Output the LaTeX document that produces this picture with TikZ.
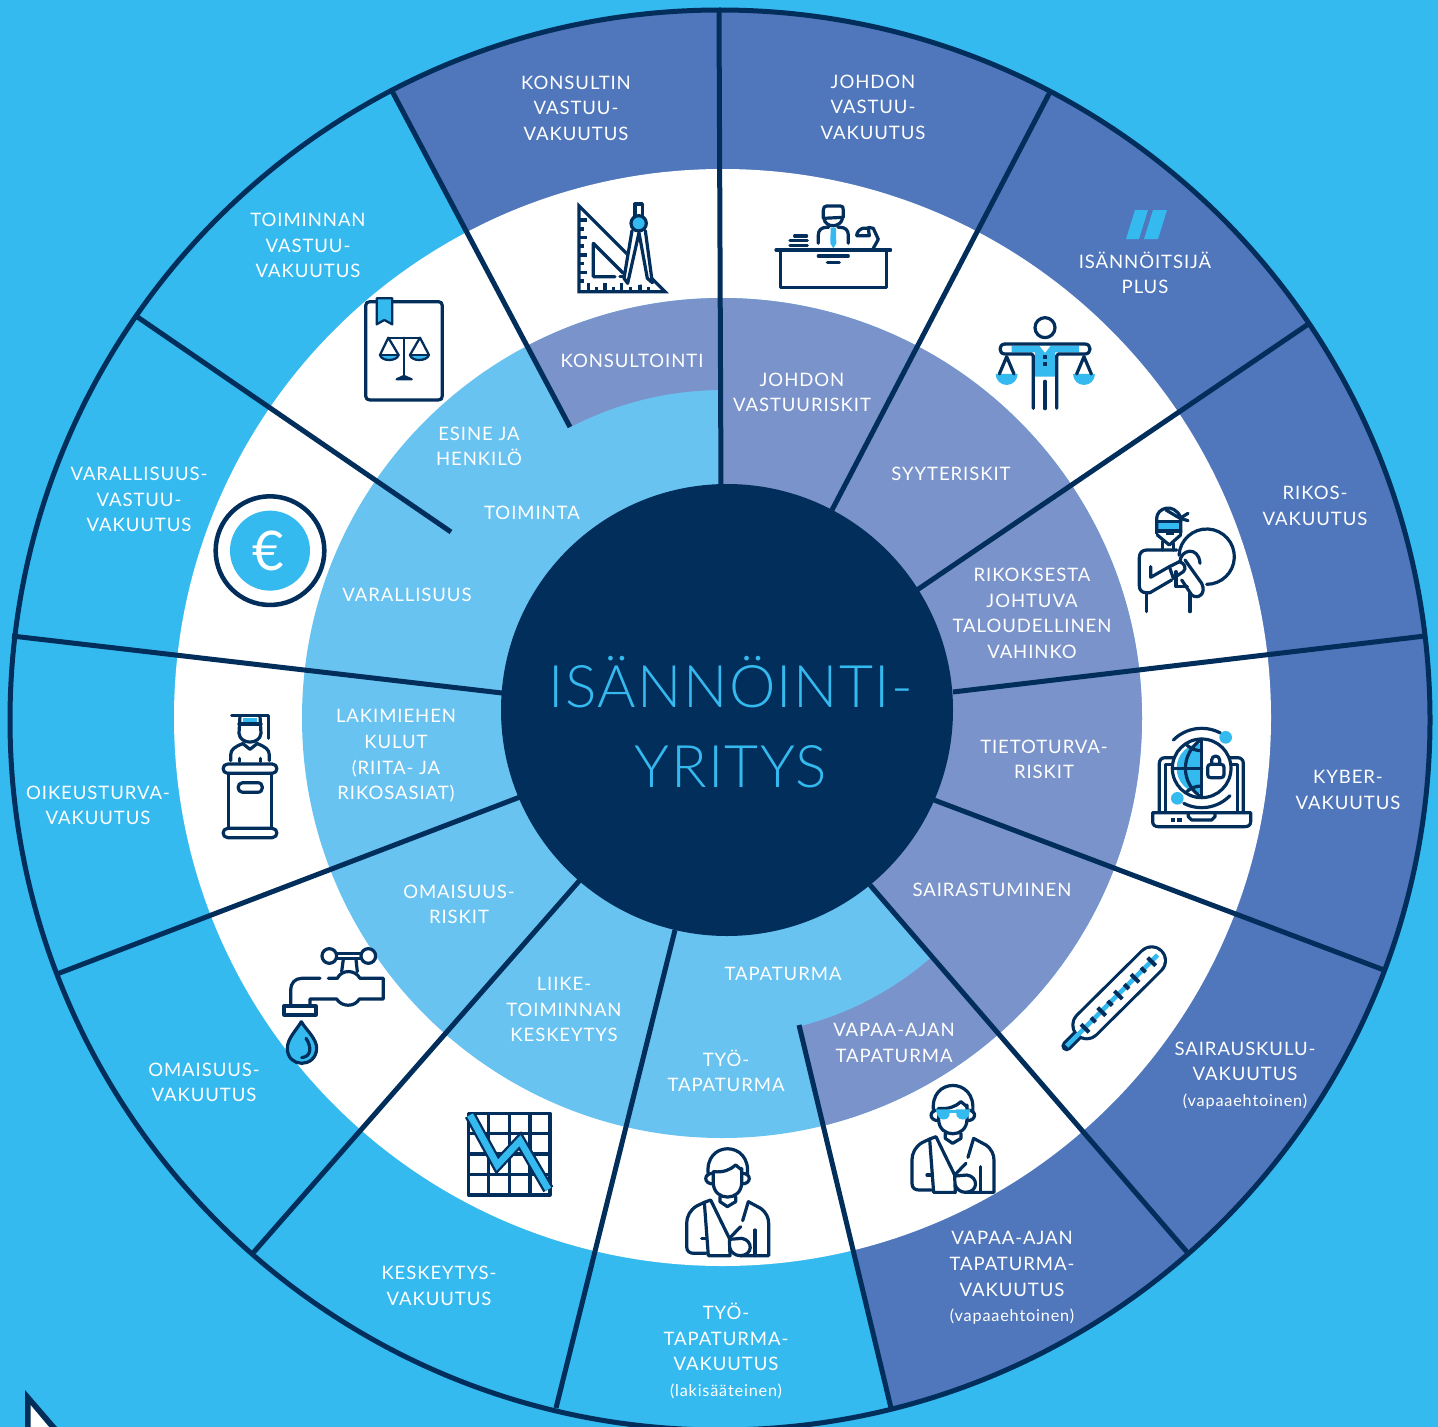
\documentclass[tikz,border=0pt]{standalone}
\usepackage{fontspec}
\setmainfont{Lato}[LetterSpace=5]
\newfontfamily\titlefont{Lato Light}[LetterSpace=2.4]
\usepackage{tikz}
\definecolor{skybg}{HTML}{35BAF0}
\definecolor{darkseg}{HTML}{5076BB}
\definecolor{periseg}{HTML}{7A93CB}
\definecolor{lightseg}{HTML}{69C3F1}
\definecolor{navy}{HTML}{022E5B}
\newcommand{\smalltxt}[1]{{\fontsize{12.2}{19.2}\selectfont #1}}
\newcommand{\slingman}{
    \draw[icon] (115,285) .. controls (100,180) and (245,180) .. (232,285);
    \draw[icon] (130,275) -- (130,310) .. controls (132,365) and (213,365) .. (215,310) -- (215,265);
    \draw[icon] (130,275) .. controls (160,278) and (180,270) .. (197,255) -- (215,270);
    \draw[icon] (128,280) .. controls (100,280) and (100,312) .. (130,312);
    \draw[icon] (217,280) .. controls (245,280) and (245,312) .. (215,312);
    \draw[icon] (150,350) -- (150,365) -- (172,380) -- (197,365) -- (197,350);
    \draw[icon] (103,367) -- (80,378) .. controls (60,390) and (50,410) .. (50,430) -- (50,500) .. controls (50,515) and (60,520) .. (72,520) -- (108,520);
    \draw[icon] (95,475) -- (110,475);
    \draw[icon] (103,367) -- (122,360) -- (178,475) -- (180,527) -- (115,527) -- cycle;
    \draw[icon] (235,365) -- (218,422);
    \draw[icon] (212,440) -- (178,475);
    \draw[icon] (235,365) -- (272,385) .. controls (290,398) and (296,415) .. (296,430) -- (296,527) -- (210,527);
    \draw[icon] (255,450) -- (255,527);
    \draw[icon] (180,478) -- (215,475) .. controls (250,480) and (250,527) .. (210,527) .. controls (195,527) and (182,515) .. (180,505);
}
\tikzset{
  seglabel/.style={align=center,text=white,inner sep=0pt,font=\fontsize{13.9}{19.2}\selectfont},
  spoke/.style={draw=navy,line width=3.75pt},
  icon/.style={draw=navy,line width=2.4pt,line cap=round,line join=round},
  thinicon/.style={draw=navy,line width=1.7pt,line cap=round,line join=round}
}

\begin{document}
\begin{tikzpicture}[x=0.75pt,y=0.75pt,yscale=-1]
\useasboundingbox (0,0) rectangle (1438,1427);

%Background
\fill[skybg] (0,0) rectangle (1438,1427);
%Outer ring, dark segments
\begin{scope}
\clip (720,720) circle [radius=710];
\fill[darkseg] (570,427) -- (317,-50) -- (1500,-50) -- (1500,1500) -- (913,1500) -- (798,1025) -- cycle;
\end{scope}
%White ring and inner ring
\fill[white] (722.5,717.5) circle [radius=548.5];
\fill[lightseg] (722,718) circle [radius=420];
%Inner ring, darker segments
\begin{scope}
\clip (722,718) circle [radius=420];
\fill[periseg] (727,710) -- (721,484) -- (719,-50) -- (1500,-50) -- (1500,1500) -- (1401,1500) -- (870,885) -- cycle;
\fill[periseg] (722,718) ++(-117.6:328) arc [start angle=-117.6,end angle=-90.35,radius=328] -- (720,200) -- (392,91) -- cycle;
\fill[periseg] (722,718) ++(76.1:318) arc [start angle=76.1,end angle=48.5,radius=318] -- (1187,1252) -- (891,1408) -- cycle;
\end{scope}
%Outer circle
\draw[spoke] (720,720) circle [radius=710];
%Straight Lines
\draw[spoke] (719,10) -- (721,490);
\draw[spoke] (1050,92) -- (832,510);
\draw[spoke] (1307,325) -- (917,590);
\draw[spoke] (1425,636) -- (953,692);
\draw[spoke] (1384,970) -- (934,800);
\draw[spoke] (1187,1252) -- (870,885);
\draw[spoke] (891,1408) -- (799,1025);
\draw[spoke] (556,1408) -- (675,930);
\draw[spoke] (253,1253) -- (580,880);
\draw[spoke] (57,974) -- (520,797);
\draw[spoke] (12,636) -- (502,693);
\draw[spoke] (136,316) -- (451,532);
\draw[spoke] (392,91) -- (570,427);
%Centre
\fill[navy] (727,710) circle [radius=226];
\node[text=skybg,align=center,inner sep=0pt,font=\titlefont\fontsize{44}{60}\selectfont] (title) at (731,722) {ISÄNNÖINTI-\\YRITYS};

%Corner mark
\fill[navy] (25,1390) -- (25,1427) -- (57,1427) -- cycle;
\fill[white] (30.5,1405) -- (30.5,1427) -- (49,1427) -- cycle;

%Slash mark
\fill[skybg] (1135,210) -- (1148,210) -- (1139,239) -- (1126,239) -- cycle;
\fill[skybg] (1153,210) -- (1167,210) -- (1158,239) -- (1144,239) -- cycle;

%Icon: set square and compass
\begin{scope}[shift={(540,180)},scale=0.3333]
\draw[icon,line cap=butt,miter limit=10,line join=miter] (117,78) -- (117,335) -- (375,335) -- cycle;
\draw[icon] (225,290) -- (160,290) -- (160,190) -- (250,280);
\draw[icon] (240,290) -- (250,290);
\foreach \ty/\tl in {120/25,147/15,172/25,198/15,225/25,250/15,277/25,303/15}
  \draw[icon,line cap=butt] (117,\ty) -- ++(\tl,0);
\foreach \tx/\tl in {145/25,170/15,195/25,220/15,245/25,272/15,300/25,325/15}
  \draw[icon,line cap=butt] (\tx,335) -- ++(0,-\tl);
\fill[white] (270,150) -- (250,300) -- (262,318) -- (340,310) -- (320,150) -- cycle;
\draw[icon] (285,110) -- (285,72) -- (307,72) -- (307,110);
\draw[icon] (276,152) -- (252,295) -- (263,310) -- (297,158) -- (322,295) -- (337,308) -- (316,152);
\draw[icon,fill=skybg] (296,130) circle [radius=23];
\end{scope}

%Icon: manager at desk
\begin{scope}[shift={(540,180)},scale=0.3333]
\draw[icon] (708,210) -- (1052,210);
\draw[icon] (722,210) -- (722,322) -- (1040,322) -- (1040,210);
\draw[icon] (835,228) -- (925,228);
\draw[icon] (862,248) -- (898,248);
\draw[icon] (850,115) -- (850,90) .. controls (850,82) and (854,78) .. (860,78) -- (902,78) .. controls (908,78) and (910,82) .. (910,90) -- (910,112) -- (850,115);
\draw[icon] (852,115) .. controls (855,145) and (905,145) .. (908,112);
\draw[icon] (835,190) -- (835,165) .. controls (835,150) and (845,142) .. (860,142) -- (866,142);
\draw[icon] (925,190) -- (925,165) .. controls (925,150) and (915,142) .. (900,142) -- (894,142);
\fill[skybg] (872,143) -- (888,143) -- (889,190) -- (880,205) -- (871,190) -- cycle;
\draw[icon] (764,168) -- (800,168);
\draw[icon] (750,182) -- (802,182);
\draw[icon] (750,196) -- (802,196);
\draw[icon] (950,167) -- (988,167) -- (985,145) -- (968,145) .. controls (958,148) and (950,158) .. (950,167);
\draw[icon] (985,142) -- (1000,145) -- (1015,178) -- (1000,205);
\end{scope}

%Icon: balance figure
\begin{scope}[shift={(980,200)},scale=0.3333]
\fill[skybg] (95,437) -- (297,437) -- (297,457) -- (225,457) -- (225,530) -- (165,530) -- (165,457) -- (95,457) -- cycle;
\fill[white] (178,437) -- (212,437) -- (195,458) -- cycle;
\draw[icon] (195,383) circle [radius=30];
\draw[icon] (75,432) -- (315,432) .. controls (335,432) and (335,462) .. (315,462) -- (235,462) -- (230,468) -- (230,625);
\draw[icon] (75,432) .. controls (55,432) and (55,462) .. (75,462) -- (155,462) -- (160,468) -- (160,625);
\draw[icon,line width=3pt] (195,545) -- (195,625);
\fill[navy] (189,465) rectangle (201,478);
\fill[navy] (189,486) rectangle (201,498);
\fill[skybg] (47,522) arc [start angle=180,end angle=0,radius=33] -- cycle;
\fill[skybg] (279,522) arc [start angle=180,end angle=0,radius=33] -- cycle;
\draw[icon] (58,522) -- (80,470) -- (102,522);
\draw[icon] (290,522) -- (312,470) -- (334,522);
\end{scope}

%Icon: thief
\begin{scope}[shift={(1130,500)},scale=0.3333]
\fill[skybg] (82,65) rectangle (150,93);
\draw[icon] (80,65) -- (152,65);
\draw[icon] (80,93) -- (152,93);
\draw[icon] (80,100) -- (80,55) .. controls (80,25) and (130,5) .. (152,52) -- (152,100);
\draw[icon] (108,30) -- (150,55) -- (174,40);
\draw[icon] (150,55) -- (174,62);
\draw[icon] (82,105) -- (118,135) -- (152,105);
\fill[navy] (108,95) rectangle (132,106);
\draw[icon] (98,125) -- (98,150);
\draw[icon] (130,130) -- (130,150);
\draw[icon] (140,150) -- (50,150) .. controls (36,150) and (28,160) .. (28,172) -- (28,258) .. controls (28,270) and (36,278) .. (48,278) -- (60,278) -- (125,240);
\draw[icon] (62,200) -- (62,232) -- (118,200);
\draw[icon] (50,278) -- (50,335);
\draw[icon] (180,270) -- (180,335);
\draw[icon] (230,170) ++(183:83) arc [start angle=183,end angle=450,radius=83];
\fill[white] (118,200) -- (148,185) -- (215,250) -- (222,280) -- (195,292) -- (155,240) -- (130,235) -- cycle;
\draw[icon] (118,200) -- (148,185) .. controls (165,190) and (170,205) .. (160,215) -- (130,235) -- cycle;
\draw[icon] (165,180) -- (215,250) .. controls (230,280) and (205,300) .. (185,285) -- (155,240);
\draw[icon] (150,185) .. controls (150,150) and (205,135) .. (210,190);
\draw[icon] (138,215) -- (138,260) -- (172,260);
\end{scope}

%Icon: laptop with globe
\begin{scope}[shift={(1040,710)},scale=0.3333]
\draw[icon] (358,305) -- (358,160) .. controls (358,150) and (365,143) .. (375,143) -- (400,143);
\draw[icon] (376,305) -- (376,163) -- (398,163);
\draw[icon] (610,305) -- (610,160) .. controls (610,150) and (603,143) .. (593,143) -- (570,143);
\draw[icon] (592,305) -- (592,163) -- (572,163);
\draw[icon] (338,308) -- (632,308) -- (632,335) .. controls (632,345) and (625,350) .. (615,350) -- (355,350) .. controls (345,350) and (338,345) .. (338,335) -- cycle;
\draw[icon] (445,310) -- (445,320) -- (455,330) -- (515,330) -- (525,320) -- (525,310);
\fill[navy] (392,324) rectangle (406,336);
\fill[navy] (411,324) rectangle (425,336);
\fill[white] (485,175) circle [radius=90];
\fill[skybg] (485,100) arc [start angle=-90,end angle=-270,radius=75] -- cycle;
\draw[icon] (485,175) circle [radius=88];
\draw[icon] (485,88) -- (485,262);
\draw[icon] (398,175) -- (485,175);
\draw[icon] (485,88) .. controls (420,130) and (420,220) .. (485,262);
\draw[icon] (440,105) .. controls (455,118) and (470,122) .. (485,122);
\draw[icon] (440,245) .. controls (455,232) and (470,228) .. (485,228);
\draw[icon] (515,163) -- (515,150) arc [start angle=180,end angle=360,radius=12] -- (539,163);
\draw[icon] (512,163) -- (543,163) .. controls (550,163) and (552,167) .. (552,172) -- (552,194) .. controls (552,200) and (548,203) .. (543,203) -- (512,203) .. controls (506,203) and (503,200) .. (503,194) -- (503,172) .. controls (503,167) and (506,163) .. (512,163);
\draw[icon] (485,175) ++(-135:120) arc [start angle=-135,end angle=-62,radius=120];
\draw[icon] (485,175) ++(117:118) arc [start angle=117,end angle=44,radius=118];
\fill[skybg] (557,82) circle [radius=19];
\fill[skybg] (412,265) circle [radius=19];
\end{scope}

%Icon: thermometer
\begin{scope}[shift={(1040,710)},scale=0.3333]
\draw[navy,line width=8pt,line cap=round] (80,1008) -- (140,948);
\draw[navy,line width=23pt,line cap=round] (140,945) -- (335,752);
\draw[white,line width=18.4pt,line cap=round] (140,945) -- (335,752);
\draw[skybg,line width=3.4pt,line cap=butt] (80,1008) -- (353,735);
\foreach \tp/\tl in {0/17,1/10,2/17,3/10,4/17,5/10,6/17,7/10,8/17}
  \draw[navy,line width=3pt] ({135+\tp*25},{955-\tp*25}) ++({-\tl*0.7},{-\tl*0.7}) -- ++({\tl*1.4},{\tl*1.4});
\end{scope}

%Icons: injured figures
\begin{scope}[shift={(670,1080)},scale=0.3333]
\slingman
\end{scope}
\begin{scope}[shift={(895.3,1016.7)},scale=0.3333]
\slingman
\fill[skybg] (121,278) -- (164,278) -- (162,298) .. controls (158,312) and (132,312) .. (127,298) -- cycle;
\fill[skybg] (182,278) -- (225,278) -- (220,298) .. controls (216,312) and (190,312) .. (184,298) -- cycle;
\fill[skybg] (160,280) rectangle (186,288);
\end{scope}

%Icon: lectern and tap
\begin{scope}[shift={(200,700)},scale=0.3333]
\draw[icon] (95,47) -- (205,47) -- (205,115);
\fill[skybg] (128,55) rectangle (172,70);
\draw[icon] (120,47) -- (117,100) .. controls (120,135) and (180,135) .. (183,100) -- (180,47);
\draw[icon] (117,72) -- (183,72);
\draw[icon] (92,182) -- (92,165) .. controls (92,148) and (105,140) .. (130,130);
\draw[icon] (208,182) -- (208,165) .. controls (208,148) and (195,140) .. (170,130);
\draw[icon] (130,132) -- (150,148) -- (170,132);
\draw[icon] (118,175) -- (118,185);
\draw[icon] (182,175) -- (182,185);
\draw[icon] (83,192) -- (217,192) .. controls (235,192) and (235,220) .. (217,220) -- (83,220) .. controls (65,220) and (65,192) .. (83,192);
\draw[icon] (83,385) -- (217,385) .. controls (235,385) and (235,413) .. (217,413) -- (83,413) .. controls (65,413) and (65,385) .. (83,385);
\draw[icon] (85,220) -- (85,385);
\draw[icon] (215,220) -- (215,385);
\draw[icon] (128,248) -- (173,248) .. controls (192,248) and (192,277) .. (173,277) -- (128,277) .. controls (110,277) and (110,248) .. (128,248);
\draw[icon] (388,768) circle [radius=22];
\draw[icon] (505,768) circle [radius=22];
\draw[icon] (410,760) -- (483,760);
\draw[icon] (410,776) -- (483,776);
\draw[icon] (430,778) -- (425,815);
\draw[icon] (468,778) -- (472,815);
\draw[icon] (385,835) -- (412,835) .. controls (425,808) and (465,808) .. (480,835) -- (550,835) -- (550,897) -- (478,897) .. controls (465,922) and (425,922) .. (410,897) -- (330,897) -- (330,918);
\draw[icon] (360,835) -- (305,835) .. controls (285,835) and (272,850) .. (272,870) -- (272,918);
\draw[icon] (252,918) rectangle (348,945);
\draw[icon,fill=skybg] (304,965) .. controls (290,990) and (262,1015) .. (262,1045) .. controls (262,1105) and (348,1105) .. (350,1045) .. controls (350,1015) and (318,990) .. (304,965);
\draw[icon] (318,1015) .. controls (335,1040) and (335,1070) .. (305,1073);
\end{scope}

%Icon: law book and euro coin
\begin{scope}[shift={(200,290)},scale=0.3333]
\draw[icon] (510,35) -- (715,35) .. controls (723,35) and (727,39) .. (727,47) -- (727,318) .. controls (727,326) and (723,330) .. (715,330) -- (510,330) .. controls (502,330) and (497,326) .. (497,318) -- (497,47) .. controls (497,39) and (502,35) .. (510,35);
\draw[thinicon,fill=skybg] (530,25) -- (577,25) -- (577,103) -- (553,90) -- (530,103) -- cycle;
\fill[skybg] (540,195) .. controls (545,215) and (590,215) .. (596,195) -- cycle;
\fill[skybg] (630,195) .. controls (635,215) and (680,215) .. (687,195) -- cycle;
\draw[thinicon] (612,143) -- (612,262);
\draw[thinicon] (565,143) -- (660,143);
\draw[thinicon] (565,143) -- (540,195) .. controls (545,215) and (590,215) .. (596,195) -- (565,143);
\draw[thinicon] (540,195) -- (596,195);
\draw[thinicon] (660,143) -- (630,195) .. controls (635,215) and (680,215) .. (687,195) -- (660,143);
\draw[thinicon] (630,195) -- (687,195);
\draw[thinicon,fill=navy] (590,268) -- (635,268) -- (612,258) -- cycle;
\draw[draw=navy,line width=3.4pt] (210,782) circle [radius=163];
\fill[skybg] (210,782) circle [radius=120];
\end{scope}
\node[text=white,inner sep=0pt,font=\fontsize{41}{41}\selectfont] (euro) at (268,551) {€};

%Icon: falling chart
\begin{scope}[shift={(440,1100)},scale=0.3333]
\draw[icon,line cap=butt] (85,40) rectangle (330,285);
\foreach \gp in {146,208,270} {
  \draw[icon,line cap=butt] (\gp,40) -- (\gp,285);
  \draw[icon,line cap=butt] (85,{\gp-46}) -- (330,{\gp-46});
}
\draw[navy,line width=8.5pt,line join=miter] (90,45) -- (172,195) -- (240,122) -- (325,268);
\draw[skybg,line width=5pt,line join=miter] (90,45) -- (172,195) -- (240,122) -- (325,268);
\end{scope}

% Text Node
\node[seglabel] (konsvak) at (576,108) {KONSULTIN\\VASTUU-\\VAKUUTUS};
\node[seglabel] (johdvak) at (873,107) {JOHDON\\VASTUU-\\VAKUUTUS};
\node[seglabel] (isanplus) at (1145,273) {ISÄNNÖITSIJÄ\\PLUS};
\node[seglabel] (rikovak) at (1315,506) {RIKOS-\\VAKUUTUS};
\node[seglabel] (kybevak) at (1348,790) {KYBER-\\VAKUUTUS};
\node[seglabel] (sairvak) at (1245,1075.5) {SAIRAUSKULU-\\VAKUUTUS\\\smalltxt{(vapaaehtoinen)}};
\node[seglabel] (vapavak) at (1012,1278) {VAPAA-AJAN\\TAPATURMA-\\VAKUUTUS\\\smalltxt{(vapaaehtoinen)}};
\node[seglabel] (tyovak) at (726,1351) {TYÖ-\\TAPATURMA-\\VAKUUTUS\\\smalltxt{(lakisääteinen)}};
\node[seglabel] (keskvak) at (439,1286) {KESKEYTYS-\\VAKUUTUS};
\node[seglabel] (omaivak) at (204,1082.5) {OMAISUUS-\\VAKUUTUS};
\node[seglabel] (oikevak) at (98,805.5) {OIKEUSTURVA-\\VAKUUTUS};
\node[seglabel] (varavak) at (139,499.5) {VARALLISUUS-\\VASTUU-\\VAKUUTUS};
\node[seglabel] (toimvak) at (308,245.5) {TOIMINNAN\\VASTUU-\\VAKUUTUS};
\node[seglabel] (konsult) at (632,361) {KONSULTOINTI};
\node[seglabel] (johdris) at (802,392.5) {JOHDON\\VASTUURISKIT};
\node[seglabel] (syyter) at (951,474) {SYYTERISKIT};
\node[seglabel] (rikoks) at (1032,613.5) {RIKOKSESTA\\JOHTUVA\\TALOUDELLINEN\\VAHINKO};
\node[seglabel] (tietot) at (1044,759.5) {TIETOTURVA-\\RISKIT};
\node[seglabel] (sairas) at (992,890) {SAIRASTUMINEN};
\node[seglabel] (vapaat) at (894,1043) {VAPAA-AJAN\\TAPATURMA};
\node[seglabel] (tapat) at (783,974) {TAPATURMA};
\node[seglabel] (tyotap) at (726,1071) {TYÖ-\\TAPATURMA};
\node[seglabel] (liike) at (564,1009.5) {LIIKE-\\TOIMINNAN\\KESKEYTYS};
\node[seglabel] (omaisr) at (459,904.5) {OMAISUUS-\\RISKIT};
\node[seglabel] (lakim) at (396,756) {LAKIMIEHEN\\KULUT\\(RIITA- JA\\RIKOSASIAT)};
\node[seglabel] (varall) at (407,595) {VARALLISUUS};
\node[seglabel] (toimin) at (532,513) {TOIMINTA};
\node[seglabel] (esine) at (479,446.5) {ESINE JA\\HENKILÖ};

\end{tikzpicture}
\end{document}
